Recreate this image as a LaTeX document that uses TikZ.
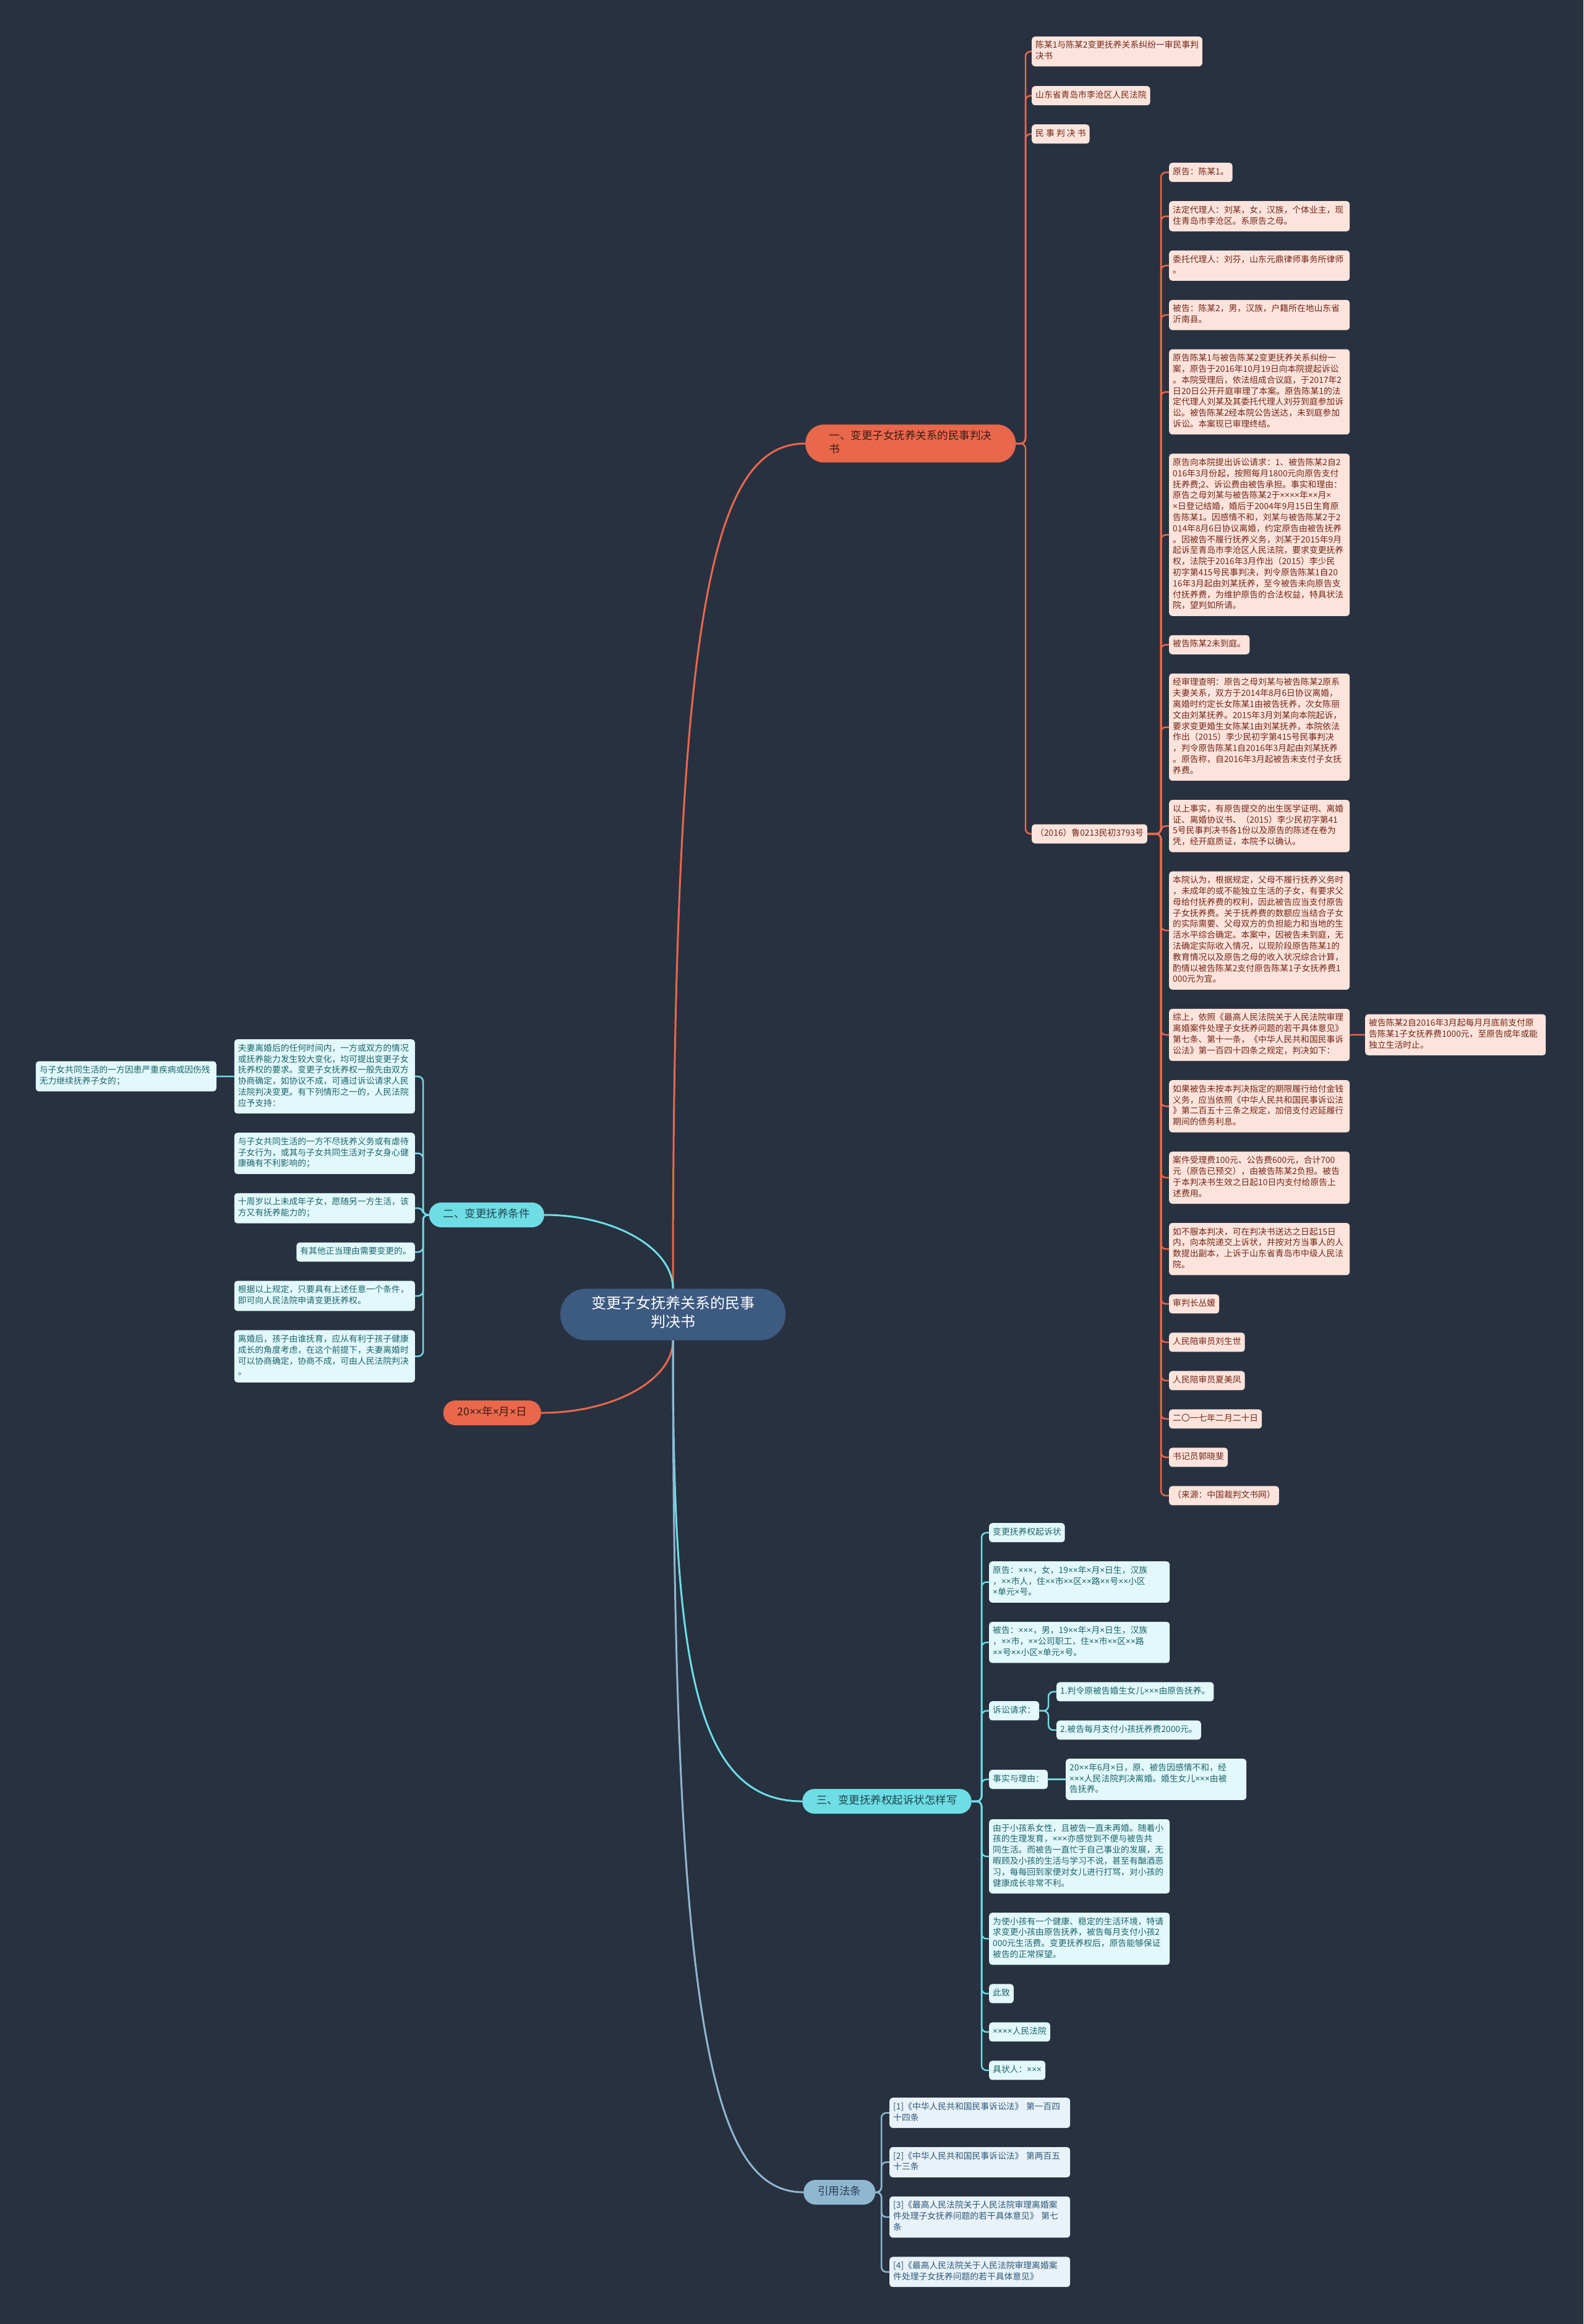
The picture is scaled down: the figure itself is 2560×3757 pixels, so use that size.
\documentclass[tikz,border=0pt]{standalone}
\usepackage{fontspec}
\setmainfont{Noto Sans CJK SC}
\newfontfamily\latf{Noto Sans}
\newcommand\X{{\latf ×}}
\definecolor{bgc}{RGB}{40,49,64}
\definecolor{ctrc}{RGB}{61,90,128}
\definecolor{orac}{RGB}{233,104,76}
\definecolor{oraf}{RGB}{252,228,220}
\definecolor{orat}{RGB}{115,38,24}
\definecolor{oradark}{RGB}{60,28,22}
\definecolor{cyac}{RGB}{110,221,228}
\definecolor{cyaf}{RGB}{226,248,250}
\definecolor{cyat}{RGB}{28,100,108}
\definecolor{cyadark}{RGB}{28,70,78}
\definecolor{bluc}{RGB}{143,183,208}
\definecolor{bluf}{RGB}{232,242,248}
\definecolor{blut}{RGB}{44,88,122}
\definecolor{bludark}{RGB}{40,58,75}
\newcommand\lstrut{\rule[-5.34pt]{0pt}{17.8pt}}
\newcommand\bstrut{\rule[-6.6pt]{0pt}{22pt}}
\newcommand\cstrut{\rule[-9pt]{0pt}{30pt}}
\begin{document}
\begin{tikzpicture}[x=1pt,y=-1pt,
  leaf/.style={rounded corners=5pt, inner xsep=6pt, inner ysep=6.6pt, align=left,
    font=\fontsize{13.8}{17.8}\selectfont,
    execute at begin node=\lstrut, execute at end node=\lstrut},
  wide/.style={text width=280pt},
  oleaf/.style={leaf, fill=oraf, text=orat},
  cleaf/.style={leaf, fill=cyaf, text=cyat},
  bleaf/.style={leaf, fill=bluf, text=blut},
  branch/.style={inner xsep=23pt, inner ysep=9pt, rounded corners=19.5pt,
    font=\fontsize{17.5}{22}\selectfont,
    execute at begin node=\bstrut, execute at end node=\bstrut},
  oline/.style={draw=orac, line width=2.5pt, rounded corners=8pt},
  cline/.style={draw=cyac, line width=2.5pt, rounded corners=8pt},
  bline/.style={draw=bluc, line width=2.5pt, rounded corners=8pt},
  ocurve/.style={draw=orac, line width=3pt},
  ccurve/.style={draw=cyac, line width=3pt},
  bcurve/.style={draw=bluc, line width=3pt}]
\useasboundingbox (0,0) rectangle (2560,3757);
\fill[bgc] (0,0) rectangle (2560,3757);

% bus coordinates
\coordinate (v1) at (1658,0);
\coordinate (v2) at (1877,0);
\coordinate (v3) at (684,0);
\coordinate (v4) at (1587,0);
\coordinate (v5) at (1695,0);
\coordinate (v6) at (1425,0);

% center
\node[fill=ctrc, text=white, rounded corners=41pt, minimum width=364pt, inner ysep=12pt,
  align=center, font=\fontsize{24}{30}\selectfont,
  execute at begin node=\cstrut, execute at end node=\cstrut] (ctr) at (1088,2125)
  {变更子女抚养关系的民事\\判决书};

% branches
\node[branch, fill=orac, text=oradark, align=left, minimum width=340pt, rounded corners=30pt, anchor=west] (b1) at (1302,717)
  {一、变更子女抚养关系的民事判决\\书};
\node[branch, fill=cyac, text=cyadark, anchor=east] (b2) at (880,1964) {二、变更抚养条件};
\node[branch, fill=orac, text=oradark, anchor=east] (d20) at (875,2284) {20\X{}\X{}年\X{}月\X{}日};
\node[branch, fill=cyac, text=cyadark, anchor=west] (b3) at (1297,2912) {三、变更抚养权起诉状怎样写};
\node[branch, fill=bluc, text=bludark, anchor=west] (b4) at (1299,3544) {引用法条};

% branch 1 children
\node[oleaf, anchor=north west] (tA) at (1668,59) {陈某1与陈某2变更抚养关系纠纷一审民事判\\决书};
\node[oleaf, anchor=north west] (tB) at (1668,139) {山东省青岛市李沧区人民法院};
\node[oleaf, anchor=north west] (tC) at (1668,201) {民 事 判 决 书};
\node[oleaf, anchor=west] (tD) at (1668,1348) {（2016）鲁0213民初3793号};

% right column
\node[oleaf, anchor=north west] (r1) at (1890,263) {原告：陈某1。};
\node[oleaf, wide, anchor=north west] (r2) at (1890,325) {法定代理人：刘某，女，汉族，个体业主，现\\住青岛市李沧区。系原告之母。};
\node[oleaf, wide, anchor=north west] (r3) at (1890,404.8) {委托代理人：刘芬，山东元鼎律师事务所律师\\。};
\node[oleaf, wide, anchor=north west] (r4) at (1890,484.6) {被告：陈某2，男，汉族，户籍所在地山东省\\沂南县。};
\node[oleaf, wide, anchor=north west] (r5) at (1890,564.4) {原告陈某1与被告陈某2变更抚养关系纠纷一\\案，原告于2016年10月19日向本院提起诉讼\\。本院受理后，依法组成合议庭，于2017年2\\日20日公开开庭审理了本案。原告陈某1的法\\定代理人刘某及其委托代理人刘芬到庭参加诉\\讼。被告陈某2经本院公告送达，未到庭参加\\诉讼。本案现已审理终结。};
\node[oleaf, wide, anchor=north west] (r6) at (1890,733.2) {原告向本院提出诉讼请求：1、被告陈某2自2\\016年3月份起，按照每月1800元向原告支付\\抚养费;2、诉讼费由被告承担。事实和理由：\\原告之母刘某与被告陈某2于\X{}\X{}\X{}\X{}年\X{}\X{}月\X{}\\\X{}日登记结婚，婚后于2004年9月15日生育原\\告陈某1。因感情不和，刘某与被告陈某2于2\\014年8月6日协议离婚，约定原告由被告抚养\\。因被告不履行抚养义务，刘某于2015年9月\\起诉至青岛市李沧区人民法院，要求变更抚养\\权，法院于2016年3月作出（2015）李少民\\初字第415号民事判决，判令原告陈某1自20\\16年3月起由刘某抚养，至今被告未向原告支\\付抚养费，为维护原告的合法权益，特具状法\\院，望判如所请。};
\node[oleaf, anchor=north west] (r7) at (1890,1026.6) {被告陈某2未到庭。};
\node[oleaf, wide, anchor=north west] (r8) at (1890,1088.6) {经审理查明：原告之母刘某与被告陈某2原系\\夫妻关系，双方于2014年8月6日协议离婚，\\离婚时约定长女陈某1由被告抚养，次女陈丽\\文由刘某抚养。2015年3月刘某向本院起诉，\\要求变更婚生女陈某1由刘某抚养，本院依法\\作出（2015）李少民初字第415号民事判决\\，判令原告陈某1自2016年3月起由刘某抚养\\。原告称，自2016年3月起被告未支付子女抚\\养费。};
\node[oleaf, wide, anchor=north west] (r9) at (1890,1293) {以上事实，有原告提交的出生医学证明、离婚\\证、离婚协议书、（2015）李少民初字第41\\5号民事判决书各1份以及原告的陈述在卷为\\凭，经开庭质证，本院予以确认。};
\node[oleaf, wide, anchor=north west] (r10) at (1890,1408.4) {本院认为，根据规定，父母不履行抚养义务时\\，未成年的或不能独立生活的子女，有要求父\\母给付抚养费的权利，因此被告应当支付原告\\子女抚养费。关于抚养费的数额应当结合子女\\的实际需要、父母双方的负担能力和当地的生\\活水平综合确定。本案中，因被告未到庭，无\\法确定实际收入情况，以现阶段原告陈某1的\\教育情况以及原告之母的收入状况综合计算，\\酌情以被告陈某2支付原告陈某1子女抚养费1\\000元为宜。};
\node[oleaf, wide, anchor=north west] (r11) at (1890,1630.6) {综上，依照《最高人民法院关于人民法院审理\\离婚案件处理子女抚养问题的若干具体意见》\\第七条、第十一条，《中华人民共和国民事诉\\讼法》第一百四十四条之规定，判决如下：};
\node[oleaf, wide, anchor=west] (fr) at (2207,1672.8) {被告陈某2自2016年3月起每月月底前支付原\\告陈某1子女抚养费1000元，至原告成年或能\\独立生活时止。};
\node[oleaf, wide, anchor=north west] (r12) at (1890,1746) {如果被告未按本判决指定的期限履行给付金钱\\义务，应当依照《中华人民共和国民事诉讼法\\》第二百五十三条之规定，加倍支付迟延履行\\期间的债务利息。};
\node[oleaf, wide, anchor=north west] (r13) at (1890,1861.4) {案件受理费100元、公告费600元，合计700\\元（原告已预交），由被告陈某2负担。被告\\于本判决书生效之日起10日内支付给原告上\\述费用。};
\node[oleaf, wide, anchor=north west] (r14) at (1890,1976.8) {如不服本判决，可在判决书送达之日起15日\\内，向本院递交上诉状，并按对方当事人的人\\数提出副本，上诉于山东省青岛市中级人民法\\院。};
\node[oleaf, anchor=north west] (r15) at (1890,2092.2) {审判长丛媛};
\node[oleaf, anchor=north west] (r16) at (1890,2154.2) {人民陪审员刘生世};
\node[oleaf, anchor=north west] (r17) at (1890,2216.2) {人民陪审员夏美凤};
\node[oleaf, anchor=north west] (r18) at (1890,2278.2) {二〇一七年二月二十日};
\node[oleaf, anchor=north west] (r19) at (1890,2340.2) {书记员郭晓斐};
\node[oleaf, anchor=north west] (r20) at (1890,2402.2) {（来源：中国裁判文书网）};

% left column
\node[cleaf, wide, anchor=north east] (l1) at (671,1680) {夫妻离婚后的任何时间内，一方或双方的情况\\或抚养能力发生较大变化，均可提出变更子女\\抚养权的要求。变更子女抚养权一般先由双方\\协商确定，如协议不成，可通过诉讼请求人民\\法院判决变更。有下列情形之一的，人民法院\\应予支持：};
\node[cleaf, wide, anchor=east] (lf) at (350,1740) {与子女共同生活的一方因患严重疾病或因伤残\\无力继续抚养子女的；};
\node[cleaf, wide, anchor=north east] (l2) at (671,1831) {与子女共同生活的一方不尽抚养义务或有虐待\\子女行为，或其与子女共同生活对子女身心健\\康确有不利影响的；};
\node[cleaf, wide, anchor=north east] (l3) at (671,1928.6) {十周岁以上未成年子女，愿随另一方生活，该\\方又有抚养能力的；};
\node[cleaf, anchor=north east] (l4) at (671,2008.4) {有其他正当理由需要变更的。};
\node[cleaf, wide, anchor=north east] (l5) at (671,2070.4) {根据以上规定，只要具有上述任意一个条件，\\即可向人民法院申请变更抚养权。};
\node[cleaf, wide, anchor=north east] (l6) at (671,2150.2) {离婚后，孩子由谁抚育，应从有利于孩子健康\\成长的角度考虑，在这个前提下，夫妻离婚时\\可以协商确定，协商不成，可由人民法院判决\\。};

% branch 3 children
\node[cleaf, anchor=north west] (s1) at (1599,2462) {变更抚养权起诉状};
\node[cleaf, wide, anchor=north west] (s2) at (1599,2524) {原告：\X{}\X{}\X{}，女，19\X{}\X{}年\X{}月\X{}日生，汉族\\，\X{}\X{}市人，住\X{}\X{}市\X{}\X{}区\X{}\X{}路\X{}\X{}号\X{}\X{}小区\\\X{}单元\X{}号。};
\node[cleaf, wide, anchor=north west] (s3) at (1599,2621.6) {被告：\X{}\X{}\X{}，男，19\X{}\X{}年\X{}月\X{}日生，汉族\\，\X{}\X{}市，\X{}\X{}公司职工，住\X{}\X{}市\X{}\X{}区\X{}\X{}路\\\X{}\X{}号\X{}\X{}小区\X{}单元\X{}号。};
\node[cleaf, anchor=west] (s4) at (1599,2765.7) {诉讼请求：};
\node[cleaf, anchor=north west] (q1) at (1708,2719.2) {1.判令原被告婚生女儿\X{}\X{}\X{}由原告抚养。};
\node[cleaf, anchor=north west] (q2) at (1708,2781.2) {2.被告每月支付小孩抚养费2000元。};
\node[cleaf, anchor=west] (s5) at (1599,2876.5) {事实与理由：};
\node[cleaf, wide, anchor=west] (f1) at (1723,2876.5) {20\X{}\X{}年6月\X{}日，原、被告因感情不和，经\\\X{}\X{}\X{}人民法院判决离婚。婚生女儿\X{}\X{}\X{}由被\\告抚养。};
\node[cleaf, wide, anchor=north west] (s6) at (1599,2940.8) {由于小孩系女性，且被告一直未再婚。随着小\\孩的生理发育，\X{}\X{}\X{}亦感觉到不便与被告共\\同生活。而被告一直忙于自己事业的发展，无\\暇顾及小孩的生活与学习不说，甚至有酗酒恶\\习，每每回到家便对女儿进行打骂，对小孩的\\健康成长非常不利。};
\node[cleaf, wide, anchor=north west] (s7) at (1599,3091.8) {为使小孩有一个健康、稳定的生活环境，特请\\求变更小孩由原告抚养，被告每月支付小孩2\\000元生活费。变更抚养权后，原告能够保证\\被告的正常探望。};
\node[cleaf, anchor=north west] (s8) at (1599,3207.2) {此致};
\node[cleaf, anchor=north west] (s9) at (1599,3269.2) {\X{}\X{}\X{}\X{}人民法院};
\node[cleaf, anchor=north west] (s10) at (1599,3331.2) {具状人：\X{}\X{}\X{}};

% branch 4 children
\node[bleaf, wide, anchor=north west] (f4a) at (1438,3391) {[1]《中华人民共和国民事诉讼法》 第一百四\\十四条};
\node[bleaf, wide, anchor=north west] (f4b) at (1438,3470.8) {[2]《中华人民共和国民事诉讼法》 第两百五\\十三条};
\node[bleaf, wide, anchor=north west] (f4c) at (1438,3550.6) {[3]《最高人民法院关于人民法院审理离婚案\\件处理子女抚养问题的若干具体意见》 第七\\条};
\node[bleaf, wide, anchor=north west] (f4d) at (1438,3648.2) {[4]《最高人民法院关于人民法院审理离婚案\\件处理子女抚养问题的若干具体意见》};

% center curves
\draw[ocurve] (ctr.north) .. controls +(0,-1100) and +(-150,0) .. (b1.west);
\draw[ccurve] (ctr.north) .. controls +(0,-65) and +(114,0) .. (b2.east);
\draw[ocurve] (ctr.south) .. controls +(0,64) and +(117,0) .. (d20.east);
\draw[ccurve] (ctr.south) .. controls +(0,500) and +(-180,0) .. (b3.west);
\draw[bcurve] (ctr.south) .. controls +(0,1100) and +(-150,0) .. (b4.west);

% branch 1 connectors
\foreach \c in {tA,tB,tC,tD}
  \draw[oline] (b1.east) -- (b1.east -| v1) |- (\c.west);
\foreach \c in {r1,r2,r3,r4,r5,r6,r7,r8,r9,r10,r11,r12,r13,r14,r15,r16,r17,r18,r19,r20}
  \draw[oline] (tD.east) -- (tD.east -| v2) |- (\c.west);
\draw[oline] (r11.east) -- (fr.west);

% branch 2 connectors
\foreach \c in {l1,l2,l3,l4,l5,l6}
  \draw[cline] (b2.west) -- (b2.west -| v3) |- (\c.east);
\draw[cline] (l1.west) -- (lf.east);

% branch 3 connectors
\foreach \c in {s1,s2,s3,s4,s5,s6,s7,s8,s9,s10}
  \draw[cline] (b3.east) -- (b3.east -| v4) |- (\c.west);
\foreach \c in {q1,q2}
  \draw[cline] (s4.east) -- (s4.east -| v5) |- (\c.west);
\draw[cline] (s5.east) -- (f1.west);

% branch 4 connectors
\foreach \c in {f4a,f4b,f4c,f4d}
  \draw[bline] (b4.east) -- (b4.east -| v6) |- (\c.west);
\end{tikzpicture}
\end{document}
